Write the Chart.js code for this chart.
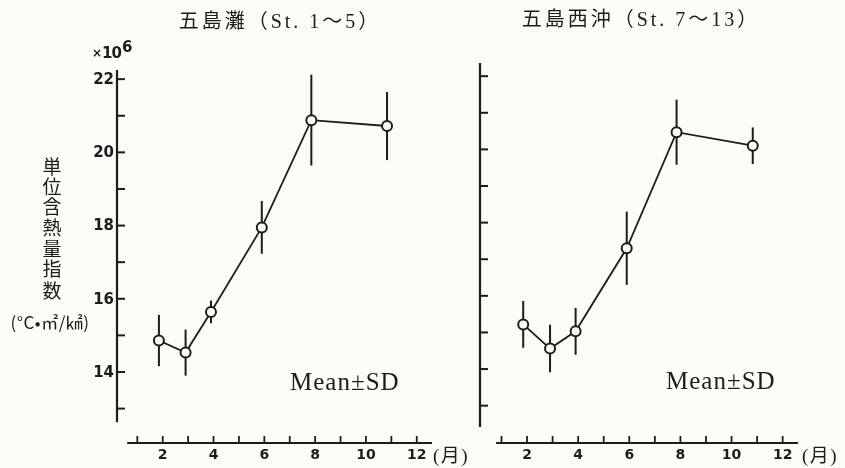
<!DOCTYPE html>
<html><head><meta charset="utf-8">
<script src="https://cdn.jsdelivr.net/npm/chart.js@4"></script>
<style>
html,body{margin:0;padding:0;background:#fcfcf6;}
#wrap{position:relative;width:845px;height:468px;overflow:hidden;}
canvas{position:absolute;left:0;top:0;}
</style></head><body>
<div id="wrap"><canvas id="c1" width="845" height="468"></canvas><canvas id="c2" width="845" height="468"></canvas></div>
<script>
// ---- data ----
const months = [1.85, 2.9, 3.9, 5.9, 7.85, 10.83];
const nadaMean = [14.86, 14.53, 15.64, 17.95, 20.88, 20.72];
const nadaSD   = [0.70, 0.63, 0.31, 0.72, 1.24, 0.93];
const westMean = [15.22, 14.56, 15.03, 17.30, 20.47, 20.10];
const westSD   = [0.64, 0.65, 0.64, 1.00, 0.89, 0.50];
const xTickValues = [1, 2, 3, 4, 5, 6, 7, 8, 9, 10, 11, 12];
const xTickLabels = ['', '2', '', '4', '', '6', '', '8', '', '10', '', '12'];
const yTickValues = [13, 14, 15, 16, 17, 18, 19, 20, 21, 22];
const yTickLabels = ['', '14', '', '16', '', '18', '', '20', '', '22'];
const titleLeft = '五島灘（St. 1～5）';
const titleRight = '五島西沖（St. 7～13）';
const yTitleChars = ['単', '位', '含', '熱', '量', '指', '数'];
const yUnit = '(°C•㎡/㎢)';
const yScaleNote = ['×', '10', '6'];
const noteText = 'Mean±SD';
const monthUnit = '(月)';

const INK = '#1c1c1c';
const BG = '#fcfcf6';

function panelPlugin(cfg, mean, sd) {
  return {
    id: 'panel_' + cfg.id,
    beforeDatasetsDraw(chart) {
      const ctx = chart.ctx, x = chart.scales.x, y = chart.scales.y, area = chart.chartArea;
      ctx.save();
      ctx.strokeStyle = INK; ctx.fillStyle = INK; ctx.lineCap = 'butt';
      // y axis line
      ctx.lineWidth = 2.2;
      ctx.beginPath();
      ctx.moveTo(area.left, y.getPixelForValue(cfg.yAxisTop));
      ctx.lineTo(area.left, y.getPixelForValue(cfg.yAxisBottom));
      ctx.stroke();
      // y ticks (inward)
      ctx.lineWidth = 2;
      ctx.font = 'bold 15px "DejaVu Sans"';
      ctx.textAlign = 'right'; ctx.textBaseline = 'middle';
      yTickValues.forEach((v, i) => {
        const py = y.getPixelForValue(v);
        ctx.beginPath(); ctx.moveTo(area.left, py); ctx.lineTo(area.left + 8, py); ctx.stroke();
        if (cfg.yLabels && yTickLabels[i]) ctx.fillText(yTickLabels[i], area.left - 3, py + 1);
      });
      // x axis line
      const by = area.bottom;
      ctx.lineWidth = 2.2;
      ctx.beginPath();
      ctx.moveTo(x.getPixelForValue(cfg.xAxisStart), by);
      ctx.lineTo(x.getPixelForValue(cfg.xAxisEnd), by);
      ctx.stroke();
      ctx.lineWidth = 1.8;
      ctx.font = 'bold 14px "DejaVu Sans"';
      ctx.textAlign = 'center'; ctx.textBaseline = 'middle';
      xTickValues.forEach((m, i) => {
        const px = x.getPixelForValue(m);
        ctx.beginPath(); ctx.moveTo(px, by); ctx.lineTo(px, by - 7); ctx.stroke();
        if (xTickLabels[i]) ctx.fillText(xTickLabels[i], px, by + 12);
      });
      // error bars
      ctx.lineWidth = 2;
      months.forEach((m, i) => {
        const px = x.getPixelForValue(m);
        ctx.beginPath();
        ctx.moveTo(px, y.getPixelForValue(mean[i] + sd[i]));
        ctx.lineTo(px, y.getPixelForValue(mean[i] - sd[i]));
        ctx.stroke();
      });
      ctx.restore();
    },
    afterDraw(chart) {
      const ctx = chart.ctx;
      ctx.save();
      ctx.fillStyle = INK;
      ctx.textBaseline = 'middle';
      // title
      ctx.font = '20px "Liberation Serif","Noto Sans CJK JP"';
      ctx.textAlign = 'center';
      ctx.letterSpacing = '3px';
      ctx.fillText(cfg.title, cfg.titleX, cfg.titleY);
      // Mean ± SD
      ctx.font = '25px "Liberation Serif"';
      ctx.textAlign = 'left'; ctx.textBaseline = 'alphabetic';
      ctx.letterSpacing = '1px';
      ctx.fillText(noteText, cfg.noteX, cfg.noteY);
      ctx.letterSpacing = '1.5px';
      // month unit
      ctx.font = '19px "Liberation Serif","Noto Sans CJK JP"';
      ctx.textBaseline = 'middle';
      ctx.fillText(monthUnit, cfg.unitX, 457);
      ctx.letterSpacing = '0px';
      if (cfg.yLabels) {
        ctx.font = '19px "Noto Sans CJK JP"';
        ctx.textAlign = 'center';
        const cys = [167, 187, 207, 228, 249, 269, 291];
        yTitleChars.forEach((c, i) => ctx.fillText(c, 52, cys[i]));
        ctx.font = '17px "Noto Sans CJK JP"';
        ctx.letterSpacing = '0.5px';
        ctx.fillText(yUnit, 50, 323);
        ctx.letterSpacing = '0px';
        ctx.textAlign = 'left'; ctx.textBaseline = 'alphabetic';
        ctx.font = 'bold 12px "DejaVu Sans"';
        ctx.fillText(yScaleNote[0], 92, 57);
        let xx = 92 + ctx.measureText(yScaleNote[0]).width;
        ctx.font = 'bold 15px "DejaVu Sans"';
        ctx.letterSpacing = '-1px';
        ctx.fillText(yScaleNote[1], xx, 58);
        xx += ctx.measureText(yScaleNote[1]).width;
        ctx.letterSpacing = '0px';
        ctx.fillText(yScaleNote[2], xx + 1, 52);
      }
      ctx.restore();
    }
  };
}

function makeChart(id, mean, sd, cfg) {
  return new Chart(document.getElementById(id), {
    type: 'line',
    data: {
      datasets: [{
        data: months.map((m, i) => ({ x: m, y: mean[i] })),
        borderColor: INK, borderWidth: 1.8,
        pointRadius: 5, pointBorderWidth: 2,
        pointBackgroundColor: BG, pointBorderColor: INK,
        tension: 0, fill: false, clip: false
      }]
    },
    options: {
      responsive: false, animation: false, devicePixelRatio: 1, events: [],
      layout: { padding: cfg.pad, autoPadding: false },
      plugins: { legend: { display: false }, tooltip: { enabled: false }, title: { display: false } },
      scales: {
        x: { type: 'linear', min: cfg.xMin, max: cfg.xMax, display: false },
        y: { type: 'linear', min: cfg.yMin, max: cfg.yMax, display: false }
      }
    },
    plugins: [panelPlugin(cfg, mean, sd)]
  });
}

makeChart('c1', nadaMean, nadaSD, {
  id: 'L', pad: { left: 117, right: 413, top: 70, bottom: 25 },
  xMin: 0.2, xMax: 12.6, yMin: 12.06, yMax: 22.25,
  yAxisTop: 22.25, yAxisBottom: 12.63, xAxisStart: 0.6, xAxisEnd: 12.6,
  yLabels: true, title: titleLeft, titleX: 280, titleY: 23,
  noteX: 290, noteY: 390, unitX: 433
});
makeChart('c2', westMean, westSD, {
  id: 'R', pad: { left: 480, right: 47, top: 63, bottom: 25 },
  xMin: 0.16, xMax: 12.6, yMin: 11.98, yMax: 22.36,
  yAxisTop: 22.36, yAxisBottom: 12.42, xAxisStart: 0.79, xAxisEnd: 12.6,
  yLabels: false, title: titleRight, titleX: 641, titleY: 21,
  noteX: 666, noteY: 389, unitX: 802
});
</script>
</body></html>
